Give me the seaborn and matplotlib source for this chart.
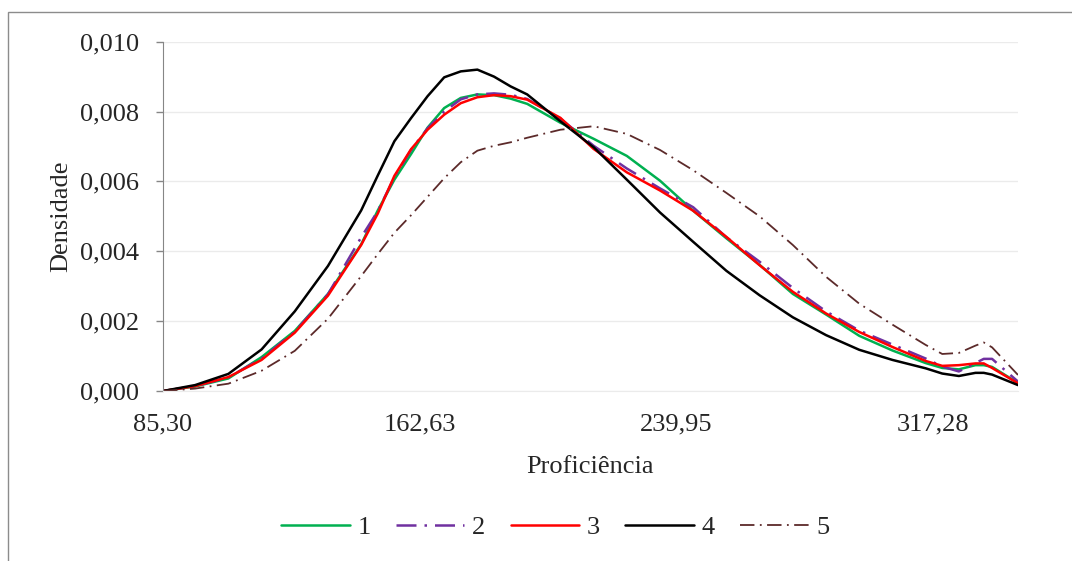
import pandas as pd
import matplotlib.pyplot as plt
import seaborn as sns
from matplotlib.patches import Rectangle

# proficiency grid and density values
prof = [85.3, 95, 105, 115, 125, 135, 145, 150, 155, 160, 165, 170, 175, 180, 185, 190, 195,
        205, 215, 225, 235, 245, 255, 265, 275, 285, 295, 305, 315, 320, 325, 330, 332.5, 335, 342.8]

dens_1 = [0, 0.00013, 0.00036, 0.00097, 0.00172, 0.00278, 0.00420, 0.00517, 0.00605, 0.00678,
          0.00754, 0.00810, 0.00839, 0.00849, 0.00847, 0.00837, 0.00822, 0.00768, 0.00722, 0.00673,
          0.00602, 0.00516, 0.00437, 0.00361, 0.00278, 0.00219, 0.00158, 0.00116, 0.00080, 0.00066,
          0.00062, 0.00074, 0.00074, 0.00069, 0.00023]
dens_2 = [0, 0.00014, 0.00039, 0.00093, 0.00170, 0.00277, 0.00440, 0.00515, 0.00612, 0.00690,
          0.00752, 0.00800, 0.00835, 0.00849, 0.00852, 0.00848, 0.00836, 0.00780, 0.00702, 0.00637,
          0.00580, 0.00526, 0.00440, 0.00370, 0.00295, 0.00228, 0.00173, 0.00133, 0.00093, 0.00070,
          0.00056, 0.00080, 0.00092, 0.00092, 0.00027]
dens_3 = [0, 0.00014, 0.00040, 0.00089, 0.00167, 0.00273, 0.00418, 0.00508, 0.00616, 0.00692,
          0.00748, 0.00791, 0.00824, 0.00841, 0.00847, 0.00844, 0.00834, 0.00782, 0.00693, 0.00626,
          0.00574, 0.00516, 0.00441, 0.00360, 0.00284, 0.00222, 0.00169, 0.00126, 0.00086, 0.00072,
          0.00074, 0.00079, 0.00079, 0.00066, 0.00022]
dens_4 = [0, 0.00017, 0.00049, 0.00119, 0.00228, 0.00358, 0.00517, 0.00617, 0.00715, 0.00781,
          0.00844, 0.00898, 0.00915, 0.00920, 0.00900, 0.00872, 0.00849, 0.00772, 0.00698, 0.00605,
          0.00511, 0.00427, 0.00344, 0.00274, 0.00211, 0.00160, 0.00118, 0.00089, 0.00065, 0.00050,
          0.00043, 0.00052, 0.00052, 0.00047, 0.00017]
dens_5 = [0, 0.00007, 0.00021, 0.00058, 0.00115, 0.00207, 0.00329, 0.00392, 0.00453, 0.00503,
          0.00556, 0.00609, 0.00655, 0.00688, 0.00702, 0.00712, 0.00725, 0.00748, 0.00758, 0.00736,
          0.00690, 0.00632, 0.00567, 0.00500, 0.00418, 0.00327, 0.00250, 0.00190, 0.00132, 0.00106,
          0.00109, 0.00130, 0.00139, 0.00125, 0.00046]

groups = ["1", "2", "3", "4", "5"]
x_ticks = [85.30, 162.63, 239.95, 317.28]
x_ticklabels = ["85,30", "162,63", "239,95", "317,28"]
y_ticks = [0, 0.002, 0.004, 0.006, 0.008, 0.010]

series = [dens_1, dens_2, dens_3, dens_4, dens_5]
df = pd.DataFrame({
    "Proficiência": prof * 5,
    "Densidade": sum(series, []),
    "grupo": [g for g in groups for _ in prof],
})

colors = {"1": "#00B050", "2": "#7030A0", "3": "#FF0000", "4": "#000000", "5": "#5C2A2A"}
styles = {"1": "-", "2": (0, (8, 3.2, 1, 3.2)), "3": "-", "4": "-", "5": (0, (8, 3, 1, 3))}
widths = {"1": 1.8, "2": 1.8, "3": 1.8, "4": 1.8, "5": 1.3}

sns.set_style("white")
plt.rcParams["font.family"] = ["Liberation Serif", "DejaVu Serif"]

fig = plt.figure(figsize=(10.72, 5.61), dpi=100)
ax = fig.add_axes([0.152, 0.303, 0.7976, 0.6227])

for g in groups:
    sns.lineplot(data=df[df["grupo"] == g], x="Proficiência", y="Densidade", ax=ax,
                 color=colors[g], linestyle=styles[g], linewidth=widths[g],
                 estimator=None, label=g)

ax.set_xlim(85.3, 342.8)
ax.set_ylim(0, 0.010)
ax.set_xticks(x_ticks)
ax.set_xticklabels(x_ticklabels)
ax.set_yticks(y_ticks)
ax.set_yticklabels([f"{v:.3f}".replace(".", ",") for v in y_ticks])
ax.tick_params(axis="x", length=0, pad=16, labelsize=19)
ax.tick_params(axis="y", length=5, width=1, color="#868686", direction="out", pad=12, labelsize=19, left=True)
ax.grid(axis="y", color="#EBEBEB", linewidth=1)
ax.set_axisbelow(True)

for s in ["top", "right"]:
    ax.spines[s].set_visible(False)
ax.spines["left"].set_color("#868686")
ax.spines["bottom"].set_color("#EBEBEB")

ax.set_xlabel("Proficiência", fontsize=19, labelpad=15)
ax.set_ylabel("Densidade", fontsize=19, labelpad=6)

handles, labels = ax.get_legend_handles_labels()
ax.get_legend().remove()
fig.legend(handles, labels, loc="center", bbox_to_anchor=(0.518, 0.06), ncol=5, frameon=False,
           fontsize=19, handlelength=2.6, handletextpad=0.3, columnspacing=0.95)

# outer chart border
fig.patches.append(Rectangle((8 / 1072, -0.1), 1.2, 1.1 - 12 / 561, transform=fig.transFigure,
                             fill=False, edgecolor="#8C8C8C", linewidth=1))

fig.savefig("out.png", dpi=100)
